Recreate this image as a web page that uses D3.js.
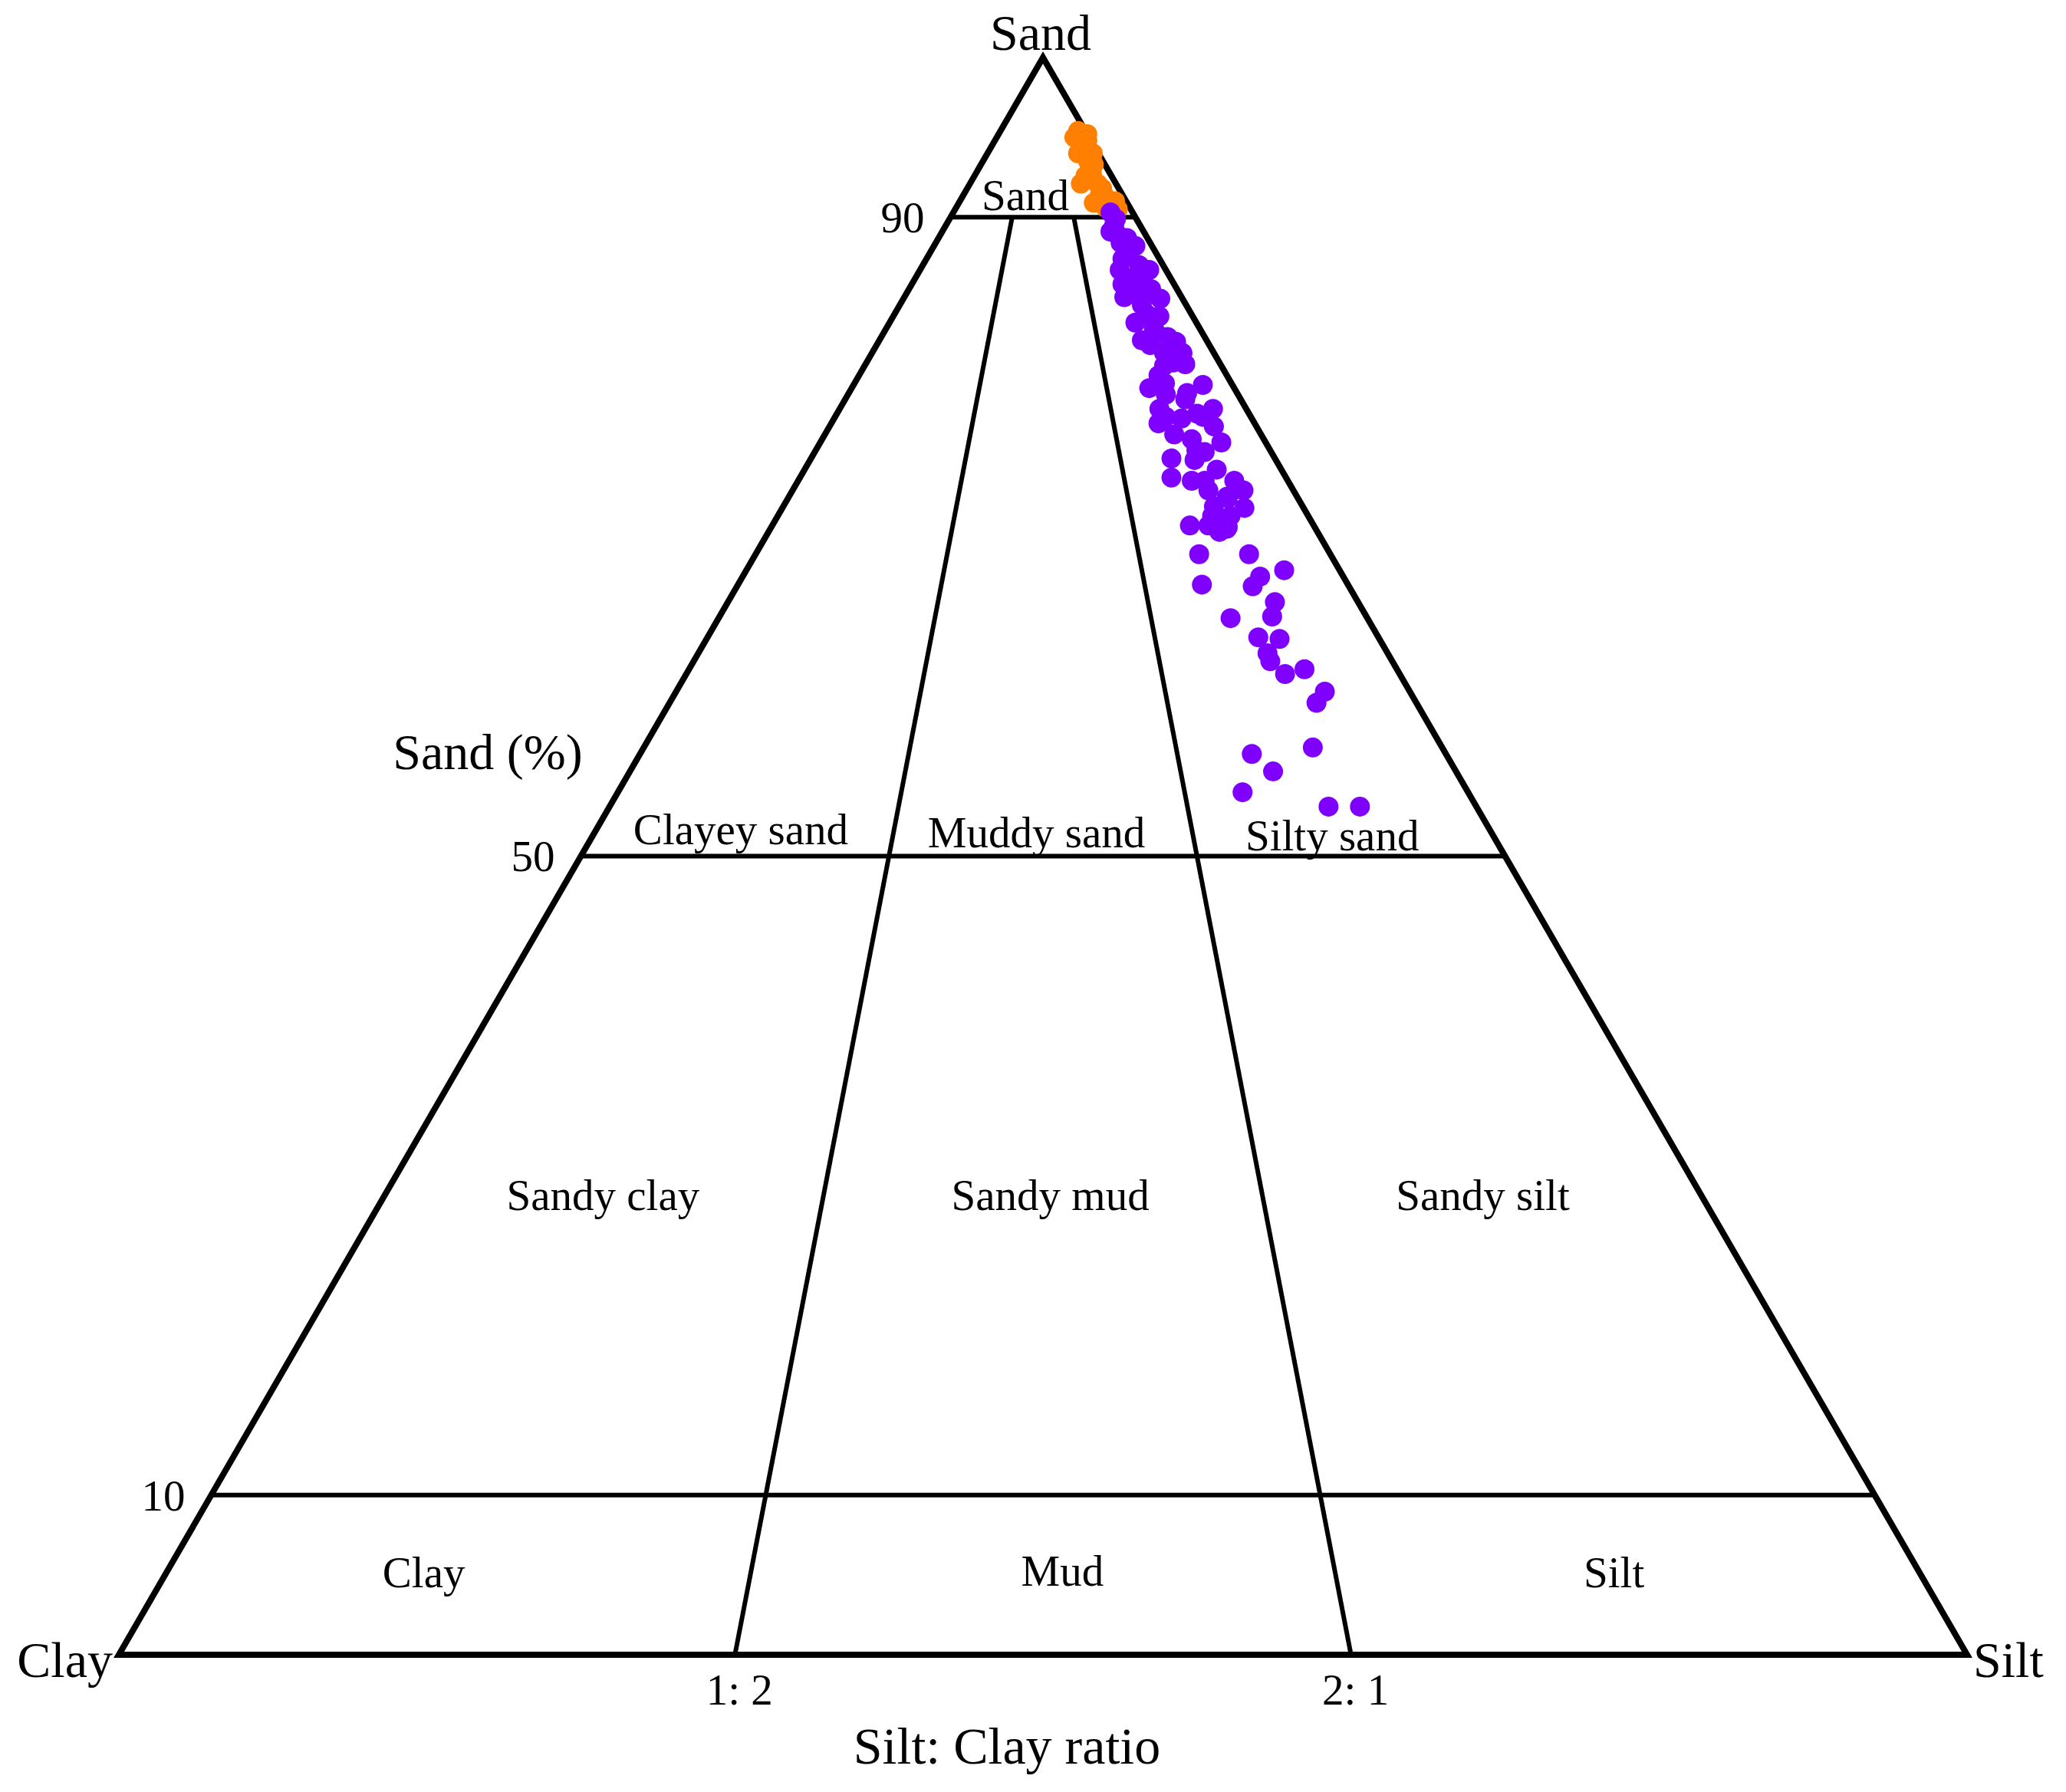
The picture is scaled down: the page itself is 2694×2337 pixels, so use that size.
<!DOCTYPE html>
<html><head><meta charset="utf-8">
<script src="https://cdn.jsdelivr.net/npm/d3@7"></script>
<style>html,body{margin:0;padding:0;background:#fff;} svg{display:block;}</style>
</head><body><svg id="chart" width="2694" height="2337"></svg>
<script>
// ---- DATA (percent; clay = 100 - sand - silt) ----
const orangeSand = [95.4, 94.8, 94.7, 94.1, 93.5, 93.3, 92.7, 92.1, 91.8, 91.3, 91.0, 90.6, 90.5, 95.0, 92.6, 91.4, 94.0, 95.2, 94.0, 92.1, 90.9];
const orangeSilt = [4.2, 5.0, 4.7, 5.1, 5.7, 6.1, 6.3, 6.9, 7.3, 7.4, 8.4, 8.1, 8.8, 4.2, 6.0, 7.6, 5.7, 4.8, 4.9, 6.0, 7.3];

const purpleSand = [90.3, 89.5, 89.1, 88.2, 88.4, 87.4, 86.7, 86.7, 85.8, 86.0, 85.0, 84.9, 84.5, 83.4, 83.8, 82.3, 82.5, 81.5, 81.5, 80.7,
  80.9, 79.3, 79.5, 78.0, 78.0, 77.1, 76.4, 76.1, 75.9, 76.9, 74.9, 74.8, 73.7, 73.5, 74.2, 73.5, 72.9, 71.9, 71.8, 71.1, 70.3, 70.6,
  70.7, 68.9, 68.9, 67.9, 67.5, 66.9, 67.0, 65.9, 65.0, 64.9, 63.7, 63.6, 62.7, 62.2, 61.4, 61.7, 60.3, 59.6, 56.8, 56.4, 55.3, 54.0, 53.1, 53.1,
  89.9, 88.7, 87.8, 87.0, 86.2, 85.5, 83.9, 83.0, 82.0, 82.2, 80.8, 80.1, 78.9, 78.6, 77.7, 77.4, 75.3, 72.9, 72.4, 70.7, 71.3,
  79.6, 79.0, 77.5, 77.5, 75.4, 73.5, 72.5, 71.3, 70.5, 87.9, 86.8, 85.2, 85.2, 83.9, 82.8, 82.0, 88.9];
const purpleSilt = [8.5, 9.1, 9.1, 10.9, 10.0, 10.6, 10.8, 12.4, 11.4, 12.3, 11.9, 13.9, 13.1, 13.3, 14.4, 14.2, 15.5, 16.8, 15.8, 16.2,
  16.6, 16.1, 18.9, 17.3, 20.2, 17.7, 18.9, 20.0, 21.7, 20.8, 19.5, 20.8, 20.1, 21.3, 22.3, 23.6, 24.4, 23.3, 25.0, 24.1, 24.4, 24.7,
  22.6, 24.0, 26.7, 29.1, 28.0, 27.9, 25.1, 29.6, 29.9, 27.7, 29.8, 31.0, 30.8, 31.2, 32.4, 33.3, 35.1, 35.0, 36.2, 33.1, 34.8, 33.8, 38.9, 40.6,
  9.0, 10.2, 10.8, 11.7, 11.8, 13.1, 13.6, 14.5, 14.8, 16.1, 17.3, 16.2, 17.2, 18.4, 19.5, 18.8, 21.1, 22.5, 23.8, 23.6, 24.5,
  16.8, 18.3, 17.9, 19.9, 20.6, 22.0, 23.7, 23.5, 24.7, 10.7, 11.9, 12.2, 13.2, 13.7, 14.7, 16.2, 9.6];

const sandClassLimits = [90, 50, 10];
const sandTickLabels = ["90", "50", "10"];
const ratioSilt = [1, 2];
const ratioClay = [2, 1];
const ratioLabels = ["1: 2", "2: 1"];

const regionNames = ["Sand", "Clayey sand", "Muddy sand", "Silty sand", "Sandy clay", "Sandy mud", "Sandy silt", "Clay", "Mud", "Silt"];
const regionSand  = [91.4, 51.7, 51.5, 51.3, 28.8, 28.8, 28.8, 5.2, 5.3, 5.2];
const regionSilt  = [3.35, 7.8, 23.9, 40.0, 11.8, 36.0, 59.4, 13.9, 48.4, 78.3];

const cornerTop = "Sand", cornerLeft = "Clay", cornerRight = "Silt";
const sandAxisTitle = "Sand (%)";
const ratioAxisTitle = "Silt: Clay ratio";

// ---- LAYOUT ----
const FONT = "'Liberation Serif','Times New Roman',serif";
const clayX = 155, siltX = 2565, baseY = 2158, apexY = 75;
const xScale = d3.scaleLinear().domain([0, 100]).range([clayX, siltX]);
const yScale = d3.scaleLinear().domain([0, 100]).range([baseY, apexY]);
const px = d => xScale(d.silt + d.sand / 2);
const py = d => yScale(d.sand);
const line = d3.line().x(px).y(py);

const svg = d3.select("#chart");
svg.append("rect").attr("width", 2694).attr("height", 2337).attr("fill", "#fff");

const gLines = svg.append("g").attr("fill", "none").attr("stroke", "#000");

// sand class lines
gLines.selectAll("path.h").data(sandClassLimits).join("path")
  .attr("d", s => line([{sand: s, silt: 0}, {sand: s, silt: 100 - s}]))
  .attr("stroke-width", 6);

// ratio lines (from base to 90 % sand)
gLines.selectAll("path.r").data(ratioSilt.map((s, i) => s / (s + ratioClay[i]))).join("path")
  .attr("d", sh => line([{sand: 0, silt: 100 * sh}, {sand: sandClassLimits[0], silt: (100 - sandClassLimits[0]) * sh}]))
  .attr("stroke-width", 6);

// outer triangle
gLines.append("path")
  .attr("d", line([{sand: 100, silt: 0}, {sand: 0, silt: 0}, {sand: 0, silt: 100}]) + "Z")
  .attr("stroke-width", 8).attr("stroke-linejoin", "miter").attr("stroke-miterlimit", 10);

// points
const orange = orangeSand.map((s, i) => ({sand: s, silt: orangeSilt[i]}));
const purple = purpleSand.map((s, i) => ({sand: s, silt: purpleSilt[i]}));
svg.append("g").selectAll("circle").data(orange).join("circle")
  .attr("cx", px).attr("cy", py).attr("r", 13).attr("fill", "#ff8000");
svg.append("g").selectAll("circle").data(purple).join("circle")
  .attr("cx", px).attr("cy", py).attr("r", 13).attr("fill", "#8000ff");

// text
const gt = svg.append("g").attr("font-family", FONT).attr("fill", "#000");

// region labels
gt.selectAll("text.reg").data(regionNames).join("text")
  .attr("x", (n, i) => px({sand: regionSand[i], silt: regionSilt[i]}))
  .attr("y", (n, i) => py({sand: regionSand[i], silt: regionSilt[i]}))
  .attr("dy", "0.35em").attr("text-anchor", "middle").attr("font-size", 57)
  .text(d => d);

// sand tick labels
gt.selectAll("text.tk").data(sandClassLimits).join("text")
  .attr("x", s => px({sand: s, silt: 0}) - 34)
  .attr("y", s => py({sand: s, silt: 0}))
  .attr("dy", "0.35em").attr("text-anchor", "end").attr("font-size", 57)
  .text((s, i) => sandTickLabels[i]);

// ratio labels
gt.selectAll("text.rl").data(ratioSilt).join("text")
  .attr("x", (s, i) => px({sand: 0, silt: 100 * s / (s + ratioClay[i])}) + 6)
  .attr("y", baseY + 65)
  .attr("text-anchor", "middle").attr("font-size", 57)
  .text((s, i) => ratioLabels[i]);

// corner labels
gt.append("text").attr("x", px({sand: 100, silt: 0}) - 3).attr("y", apexY - 10)
  .attr("text-anchor", "middle").attr("font-size", 66).text(cornerTop);
gt.append("text").attr("x", clayX - 8).attr("y", baseY + 29)
  .attr("text-anchor", "end").attr("font-size", 66).text(cornerLeft);
gt.append("text").attr("x", siltX + 8).attr("y", baseY + 29)
  .attr("text-anchor", "start").attr("font-size", 66).text(cornerRight);

// axis titles
gt.append("text").attr("x", 636).attr("y", 1003)
  .attr("text-anchor", "middle").attr("font-size", 66).text(sandAxisTitle);
gt.append("text").attr("x", 1313).attr("y", 2300)
  .attr("text-anchor", "middle").attr("font-size", 68).text(ratioAxisTitle);
</script>
</body></html>
